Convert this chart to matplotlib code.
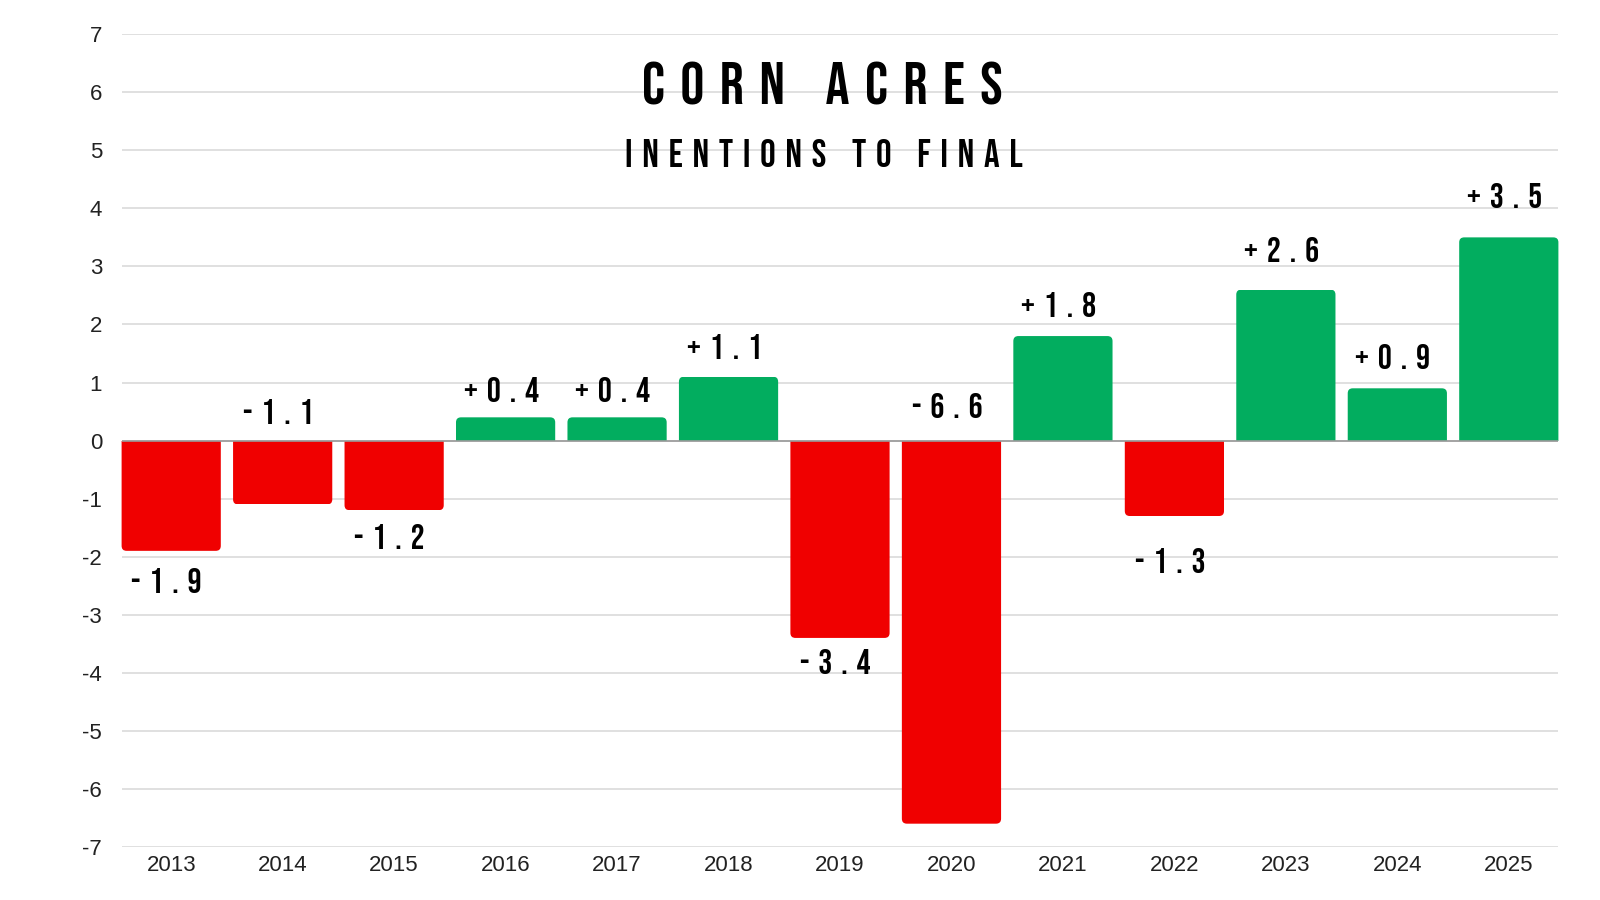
import matplotlib
matplotlib.use("Agg")
import matplotlib.pyplot as plt
from matplotlib.patches import FancyBboxPatch, Rectangle

years = ["2013", "2014", "2015", "2016", "2017", "2018", "2019",
         "2020", "2021", "2022", "2023", "2024", "2025"]
changes = [-1.9, -1.1, -1.2, 0.4, 0.4, 1.1, -3.4, -6.6, 1.8, -1.3, 2.6, 0.9, 3.5]
# where the value label sits: outside the bar end, or on the other side of zero
label_side = ["end", "zero", "end", "end", "end", "end", "end",
              "zero", "end", "end", "end", "end", "end"]
# gap (points) between a label and its bar, as placed in the original
label_gap = [12, 12, 10, 11, 11, 13, 8, 16, 14, 23, 20, 14, 21]

RED = "#F00000"
GREEN = "#02AD5F"
HEAD = ["Bebas Neue", "DejaVu Sans"]
plt.rcParams["axes.unicode_minus"] = False

SEP = " \u200a"


def spaced(s, sep=SEP, tail=False):
    return sep.join(s) + (sep if tail else "")


fig = plt.figure(figsize=(16, 9), dpi=100)
ax = fig.add_axes([0.076, 0.059, 0.898, 0.903])

width = 0.89
x = list(range(len(years)))
for i, v in enumerate(changes):
    c = GREEN if v > 0 else RED
    h = abs(v)
    # box mirrored across zero, rounded at both ends; the zero half is clipped
    # away so the bar keeps a square end at the axis
    box = FancyBboxPatch((i - width / 2, -h), width, 2 * h,
                         boxstyle="round,pad=0,rounding_size=0.045",
                         mutation_aspect=1.9, fc=c, ec="none", zorder=3)
    ax.add_patch(box)
    clip = Rectangle((i - width, min(0, v)), 2 * width, h,
                     transform=ax.transData)
    box.set_clip_path(clip)

for i, v in enumerate(changes):
    txt = spaced(("+" if v > 0 else "-") + "%.1f" % abs(v), tail=True)
    up = (v > 0) == (label_side[i] == "end")
    base = v if label_side[i] == "end" else 0
    g = label_gap[i]
    ax.annotate(txt, (i, base), xytext=(0, g if up else -g),
                textcoords="offset points", ha="center",
                va="bottom" if up else "top", fontsize=25,
                family=HEAD, color="black")

ax.set_xlim(-width / 2, len(years) - 1 + width / 2)
ax.set_ylim(-7, 7)
ax.set_yticks(range(-7, 8))
ax.set_xticks(x)
ax.set_xticklabels(years)
ax.tick_params(axis="both", length=0, labelsize=16, colors="#222222",
               labelfontfamily="Liberation Sans")
ax.tick_params(axis="y", pad=14)
ax.tick_params(axis="x", pad=6)

ax.yaxis.grid(True, color="#DADADA", linewidth=1.2, zorder=0)
ax.axhline(0, color="#9A9A9A", linewidth=1.2, zorder=4)
for s in ax.spines.values():
    s.set_visible(False)

fig.text(0.514, 0.907, spaced("CORN ACRES"), ha="center", va="center",
         fontsize=43, family=HEAD)
fig.text(0.515, 0.830, spaced("INENTIONS TO FINAL", sep="\u2005"),
         ha="center", va="center", fontsize=28, family=HEAD)

fig.savefig("out.png", dpi=100, facecolor="white")
